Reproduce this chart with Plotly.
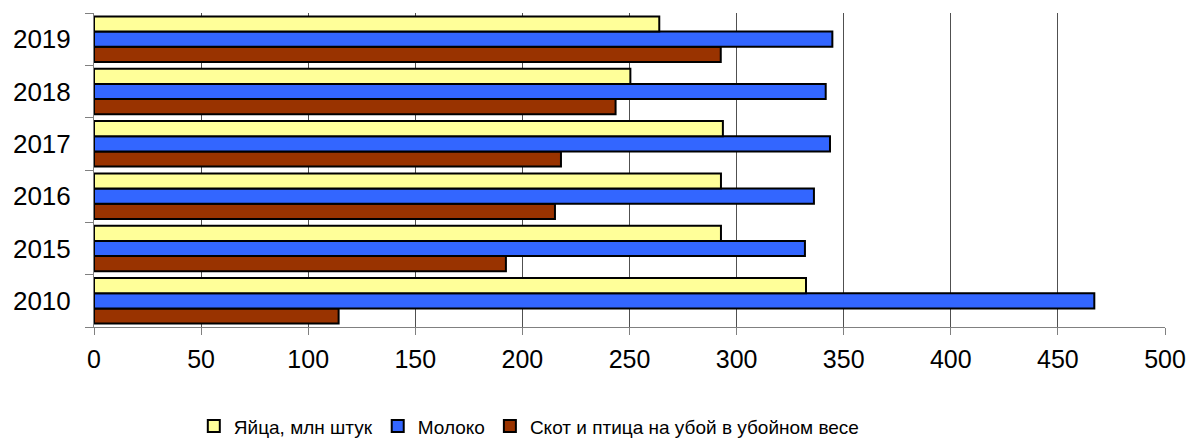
import plotly.graph_objects as go

years = ["2010", "2015", "2016", "2017", "2018", "2019"]
eggs = [332.4, 292.7, 292.7, 293.6, 250.4, 263.9]
milk = [467.0, 331.9, 336.1, 343.6, 341.6, 344.7]
meat = [114.2, 192.3, 215.2, 218.0, 243.5, 292.6]

names = ["Яйца, млн штук", "Молоко", "Скот и птица на убой в убойном весе"]
colors = ["#FFFF99", "#3366FF", "#993300"]
x_ticks = [0, 50, 100, 150, 200, 250, 300, 350, 400, 450, 500]

font = "Liberation Sans, Arial, sans-serif"

fig = go.Figure()
# plotly stacks grouped horizontal bars from the bottom up, so add in reverse
for vals, name, col in reversed(list(zip([eggs, milk, meat], names, colors))):
    fig.add_trace(go.Bar(
        y=years, x=vals, name=name, orientation="h",
        marker=dict(color=col, line=dict(color="black", width=2)),
    ))

fig.update_layout(
    width=1189, height=439,
    paper_bgcolor="white", plot_bgcolor="white",
    margin=dict(l=94, r=24, t=13, b=112, autoexpand=False),
    barmode="group", bargap=0.13, bargroupgap=0,
    font=dict(family=font, color="black"),
    legend=dict(
        orientation="h", traceorder="reversed",
        xref="container", yref="container",
        x=0.163, xanchor="left", y=0.029, yanchor="middle",
        font=dict(size=19), itemwidth=30,
    ),
    xaxis=dict(
        range=[0, 500], tickvals=x_ticks,
        showgrid=True, gridcolor="#505050", gridwidth=1,
        showline=True, linecolor="#808080", linewidth=1,
        ticks="outside", ticklen=7, tickcolor="#808080",
        ticklabelstandoff=3, automargin=False,
        tickfont=dict(size=25), zeroline=False,
    ),
    yaxis=dict(
        type="category", categoryorder="array", categoryarray=years,
        showline=True, linecolor="#808080", linewidth=1,
        ticks="outside", ticklen=8, tickcolor="#808080",
        tickson="boundaries", ticklabelstandoff=17, automargin=False,
        tickfont=dict(size=26), showgrid=False,
    ),
)

# the default page has an 8px body margin; drop it so the figure fills the window
fig.write_html("out.html", config={"displayModeBar": False},
               post_script="document.body.style.margin = '0';")
